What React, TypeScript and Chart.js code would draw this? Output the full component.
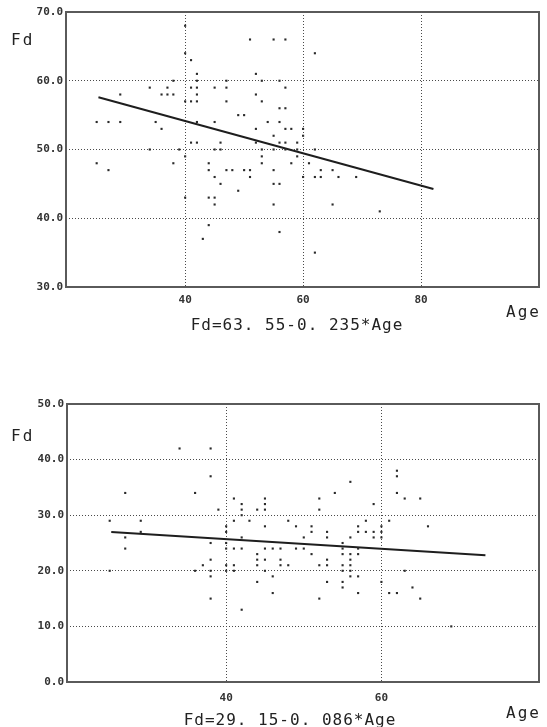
import { useEffect, useRef } from "react";
import { Chart, registerables } from "chart.js";

Chart.register(...registerables);

// ---------- Top chart data (Age vs Fd) ----------
const topAge = [
  40, 40, 41, 51, 55, 57, 62, 52, 42, 38, 42, 47, 53, 56, 34, 37, 41, 42, 45, 47, 57,
  29, 36, 37, 38, 42, 52, 40, 41, 42, 47, 53, 56, 57, 49, 50, 25, 27, 29, 35, 42, 45,
  54, 56, 36, 52, 57, 58, 60, 55, 60, 41, 42, 46, 52, 56, 57, 59, 34, 39, 45, 46, 53,
  55, 57, 59, 62, 40, 53, 59, 25, 38, 44, 53, 58, 61, 27, 44, 47, 48, 50, 51, 55, 63,
  65, 45, 51, 60, 62, 63, 66, 69, 46, 55, 56, 49, 40, 44, 45, 45, 55, 65, 73, 44, 56,
  43, 62,
];
const topFd = [
  68, 64, 63, 66, 66, 66, 64, 61, 61, 60, 60, 60, 60, 60, 59, 59, 59, 59, 59, 59, 59,
  58, 58, 58, 58, 58, 58, 57, 57, 57, 57, 57, 56, 56, 55, 55, 54, 54, 54, 54, 54, 54,
  54, 54, 53, 53, 53, 53, 53, 52, 52, 51, 51, 51, 51, 51, 51, 51, 50, 50, 50, 50, 50,
  50, 50, 50, 50, 49, 49, 49, 48, 48, 48, 48, 48, 48, 47, 47, 47, 47, 47, 47, 47, 47,
  47, 46, 46, 46, 46, 46, 46, 46, 45, 45, 45, 44, 43, 43, 43, 42, 42, 42, 41, 39, 38,
  37, 35,
];
const topFitAge = [25.3, 82.1];
const topFitFd = [57.6, 44.25];
const topXTicks = [40, 60, 80];
const topEquation = "Fd=63. 55-0. 235*Age";

// ---------- Bottom chart data (Age vs Fd) ----------
const botAge = [
  34, 38, 38, 27, 36, 39, 41, 42, 42, 42, 44, 45, 45, 45, 25, 29, 27, 29, 27, 25, 38,
  38, 37, 36, 38, 38, 38, 40, 40, 40, 40, 40, 40, 41, 41, 42, 42, 43, 45, 41, 41, 44,
  44, 44, 45, 45, 46, 47, 47, 47, 48, 49, 50, 51, 52, 53, 53, 55, 55, 55, 56, 56, 56,
  57, 57, 55, 56, 56, 57, 45, 46, 44, 53, 55, 55, 46, 52, 57, 42, 48, 49, 51, 51, 52,
  52, 54, 56, 53, 53, 50, 57, 57, 56, 55, 58, 58, 62, 62, 62, 63, 65, 59, 61, 66, 59,
  59, 60, 60, 60, 60, 63, 61, 62, 64, 65, 69,
];
const botFd = [
  42, 42, 37, 34, 34, 31, 33, 32, 31, 30, 31, 33, 32, 31, 29, 29, 26, 27, 24, 20, 25,
  22, 21, 20, 20, 19, 15, 28, 27, 25, 24, 21, 20, 29, 24, 24, 26, 29, 28, 21, 20, 23,
  22, 21, 24, 22, 24, 24, 22, 21, 21, 24, 24, 23, 21, 21, 22, 24, 23, 21, 23, 22, 21,
  24, 23, 20, 20, 19, 19, 20, 19, 18, 18, 18, 17, 16, 15, 16, 13, 29, 28, 28, 27, 33,
  31, 34, 36, 27, 26, 26, 28, 27, 26, 25, 29, 27, 38, 37, 34, 33, 33, 32, 29, 28, 27,
  26, 28, 27, 26, 18, 20, 16, 16, 17, 15, 10,
];
const botFitAge = [25.2, 73.4];
const botFitFd = [27.0, 22.8];
const botXTicks = [40, 60];
const botEquation = "Fd=29. 15-0. 086*Age";

const W = 547;
const TICK_FONT = { family: "'DejaVu Sans Mono', monospace", size: 11, weight: "bold" as const };
const TEXT_FONT = "16px 'DejaVu Sans Mono', monospace";

type Label = { text: string; x: number; y: number; align: CanvasTextAlign; spacing: string };

const framePlugin = {
  id: "frameAndText",
  afterDraw(chart: any) {
    const { ctx, chartArea } = chart;
    ctx.save();
    ctx.strokeStyle = "#5a5a5a";
    ctx.lineWidth = 2;
    ctx.strokeRect(chartArea.left, chartArea.top, chartArea.right - chartArea.left, chartArea.bottom - chartArea.top);
    const labels: Label[] = chart.options.plugins.frameAndText?.labels || [];
    ctx.fillStyle = "#222";
    ctx.textBaseline = "middle";
    for (const l of labels) {
      ctx.font = TEXT_FONT;
      (ctx as any).letterSpacing = l.spacing;
      ctx.textAlign = l.align;
      ctx.fillText(l.text, l.x, l.y);
    }
    ctx.restore();
  },
};

type Cfg = {
  ages: number[];
  fds: number[];
  fitAge: number[];
  fitFd: number[];
  xMin: number;
  xMax: number;
  yMin: number;
  yMax: number;
  xTicks: number[];
  height: number;
  area: { top: number; left: number; right: number; bottom: number };
  xPad: number;
  labels: Label[];
};

function build(canvas: HTMLCanvasElement, c: Cfg) {
  const gridColor = (min: number, max: number) => (ctx: any) =>
    ctx.tick && (Math.abs(ctx.tick.value - min) < 1e-6 || Math.abs(ctx.tick.value - max) < 1e-6)
      ? "rgba(0,0,0,0)"
      : "#4a4a4a";
  return new Chart(canvas, {
    type: "scatter",
    data: {
      datasets: [
        {
          type: "scatter",
          data: c.ages.map((x, i) => ({ x, y: c.fds[i] })),
          pointRadius: 1.5,
          pointStyle: "rect",
          backgroundColor: "#2a2a2a",
          borderWidth: 0,
        },
        {
          type: "line",
          data: c.fitAge.map((x, i) => ({ x, y: c.fitFd[i] })),
          borderColor: "#1e1e1e",
          borderWidth: 2,
          pointRadius: 0,
          fill: false,
        } as any,
      ],
    },
    options: {
      responsive: false,
      animation: false,
      layout: { padding: { left: 0, right: W - c.area.right, top: c.area.top, bottom: 0 } },
      plugins: {
        legend: { display: false },
        tooltip: { enabled: false },
        frameAndText: { labels: c.labels },
      } as any,
      scales: {
        x: {
          type: "linear",
          min: c.xMin,
          max: c.xMax,
          afterBuildTicks: (s: any) => {
            s.ticks = c.xTicks.map((v) => ({ value: v }));
          },
          afterFit: (s: any) => {
            s.height = c.height - c.area.bottom;
          },
          grid: { color: gridColor(c.xMin, c.xMax), lineWidth: 1, drawTicks: false },
          border: { display: false, dash: [1, 2] },
          ticks: {
            padding: c.xPad,
            color: "#333",
            font: TICK_FONT,
            maxRotation: 0,
            autoSkip: false,
            callback: (v: any) => String(v),
          },
        },
        y: {
          type: "linear",
          min: c.yMin,
          max: c.yMax,
          afterFit: (s: any) => {
            s.width = c.area.left;
          },
          grid: { color: gridColor(c.yMin, c.yMax), lineWidth: 1, drawTicks: false },
          border: { display: false, dash: [1, 2] },
          ticks: {
            stepSize: 10,
            padding: 3,
            color: "#333",
            font: TICK_FONT,
            autoSkip: false,
            callback: (v: any) => Number(v).toFixed(1),
          },
        },
      },
    },
    plugins: [framePlugin],
  });
}

function Panel({ cfg, top }: { cfg: Cfg; top: number }) {
  const ref = useRef<HTMLCanvasElement>(null);
  useEffect(() => {
    if (!ref.current) return;
    const ch = build(ref.current, cfg);
    return () => ch.destroy();
  }, []);
  return (
    <canvas
      ref={ref}
      width={W}
      height={cfg.height}
      style={{ position: "absolute", left: 0, top, width: W, height: cfg.height, display: "block" }}
    />
  );
}

const topCfg: Cfg = {
  ages: topAge,
  fds: topFd,
  fitAge: topFitAge,
  fitFd: topFitFd,
  xMin: 19.8,
  xMax: 100,
  yMin: 30,
  yMax: 70,
  xTicks: topXTicks,
  height: 340,
  area: { top: 12, left: 66, right: 539, bottom: 287 },
  xPad: 7,
  labels: [
    { text: "Fd", x: 11, y: 41, align: "left", spacing: "2px" },
    { text: "Age", x: 541, y: 313, align: "right", spacing: "2px" },
    { text: topEquation, x: 297, y: 326, align: "center", spacing: "1px" },
  ],
};

const botCfg: Cfg = {
  ages: botAge,
  fds: botFd,
  fitAge: botFitAge,
  fitFd: botFitFd,
  xMin: 19.5,
  xMax: 80.3,
  yMin: 0,
  yMax: 50,
  xTicks: botXTicks,
  height: 387,
  area: { top: 64, left: 67, right: 539, bottom: 342 },
  xPad: 10,
  labels: [
    { text: "Fd", x: 11, y: 97, align: "left", spacing: "2px" },
    { text: "Age", x: 541, y: 374, align: "right", spacing: "2px" },
    { text: botEquation, x: 290, y: 381, align: "center", spacing: "1px" },
  ],
};

export default function App() {
  return (
    <div style={{ position: "absolute", left: 0, top: 0, width: W, height: 727, background: "#fff" }}>
      <Panel cfg={topCfg} top={0} />
      <Panel cfg={botCfg} top={340} />
    </div>
  );
}
